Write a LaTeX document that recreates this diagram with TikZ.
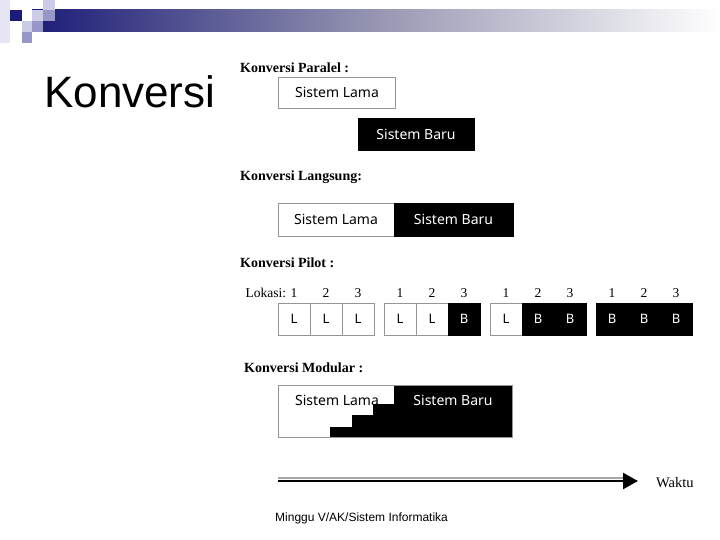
\documentclass[tikz,border=0pt]{standalone}
\usepackage{fontspec}
\setmainfont{Liberation Serif}
\setsansfont{Liberation Sans}
\newfontfamily\boxfont{Noto Sans}
\usepackage{tikz}
\usetikzlibrary{calc}
\usetikzlibrary{arrows.meta}
\usetikzlibrary{positioning}
\definecolor{navy}{RGB}{28,28,120}
\definecolor{lavlight}{RGB}{204,204,232}
\definecolor{lavmid}{RGB}{150,150,200}
\definecolor{boxgray}{RGB}{150,150,150}

\begin{document}
\begin{tikzpicture}[x=1pt,y=-1pt]
  % some styles
  \tikzset{
    lama/.style={
      rectangle,
      draw=boxgray,
      fill=white,
      text=black,
      inner sep=0pt,
      outer sep=0pt,
      font=\boxfont\fontsize{14}{16}\selectfont
    }
  }
  \tikzset{
    baru/.style={
      rectangle,
      draw=black,
      fill=black,
      text=white,
      inner sep=0pt,
      outer sep=0pt,
      font=\boxfont\fontsize{14}{16}\selectfont
    }
  }
  \tikzset{judul/.style={anchor=base west,inner sep=0pt,font=\bfseries\fontsize{14}{16}\selectfont}}
  \tikzset{angka/.style={anchor=base,inner sep=0pt,font=\fontsize{13.5}{15}\selectfont}}
  \tikzset{sel/.style={minimum width=32,minimum height=32,font=\boxfont\fontsize{13}{15}\selectfont}}

\useasboundingbox (0,0) rectangle (720,540);

% header
\shade[left color=navy,right color=white,middle color={rgb,255:red,150;green,150;blue,178}] (32,10) rectangle (720,32);
\fill[lavlight!50] (0,0) rectangle (10,43);
\fill[navy] (10,10) rectangle (22,21);
\fill[lavlight] (32,10) rectangle (43,21);
\fill[lavlight] (43,0) rectangle (55,10);
\fill[lavmid] (43,10) rectangle (55,21);
\fill[lavlight] (22,21) rectangle (32,32);
\fill[lavmid] (32,21) rectangle (43,32);
\fill[lavmid] (22,32) rectangle (32,43);

\node[anchor=base west,inner sep=0pt,font=\sffamily\fontsize{44}{50}\selectfont] (judul) at (44,108) {Konversi};

% paralel
\node[judul] (tparalel) at (240,73) {Konversi Paralel :};
\node[lama,minimum width=117,minimum height=31] (plama) at (337,92.5) {Sistem Lama};
\node[baru,minimum width=116,minimum height=32] (pbaru) at (416,134) {Sistem Baru};

% langsung
\node[judul] (tlangsung) at (240,181) {Konversi Langsung:};
\node[lama,minimum width=116,minimum height=33] (llama) at (336,219.5) {Sistem Lama};
\node[baru,minimum width=119,minimum height=33,anchor=west] (lbaru) at (llama.east) {Sistem Baru};

% pilot
\node[judul] (tpilot) at (240,267) {Konversi Pilot :};
\foreach \g/\c/\t/\s in {0/1/L/lama,0/2/L/lama,0/3/L/lama,
                         1/1/L/lama,1/2/L/lama,1/3/B/baru,
                         2/1/L/lama,2/2/B/baru,2/3/B/baru,
                         3/1/B/baru,3/2/B/baru,3/3/B/baru} {
   \node[\s,sel] (p\g\c) at (278+106*\g+32*\c-16,319) {\t};
   \node[angka] (n\g\c) at (278+106*\g+32*\c-16,297) {\c};
}
\node[angka,anchor=base east] (lokasi) at ($(n01.base west)+(-4,0)$) {Lokasi:};

% modular
\node[judul] (tmodular) at (244,372) {Konversi Modular :};
\draw[boxgray,fill=white] (278,385) rectangle (512,437);
\fill[black] (394,385) -- (512,385) -- (512,437) -- (330,437) -- (330,427) -- (352,427)
  -- (352,415) -- (373,415) -- (373,404) -- (394,404) -- cycle;
\draw[boxgray] (278,385) rectangle (512,437);
\node[anchor=center,inner sep=0pt,font=\boxfont\fontsize{14}{16}\selectfont] (mlama) at (337,400) {Sistem Lama};
\node[anchor=center,inner sep=0pt,text=white,font=\boxfont\fontsize{14}{16}\selectfont] (mbaru) at (453,400) {Sistem Baru};

% waktu
\coordinate (w0) at (278,480);
\coordinate (w1) at (638,480);
\draw[black!35,line width=2] ($(w0)+(0,-2)$) -- ($(w1)+(-14,-2)$);
\draw[black,line width=2.5,-{Triangle[length=15,width=16]}] ($(w0)+(0,1)$) -- ($(w1)+(0,1)$);
\node[anchor=base west,inner sep=0pt,font=\fontsize{14.5}{16}\selectfont] (waktu) at (656,487) {Waktu};

\node[anchor=base west,inner sep=0pt,font=\sffamily\fontsize{12}{14}\selectfont] (kaki) at (275,521) {Minggu V/AK/Sistem Informatika};

\end{tikzpicture}
\end{document}
